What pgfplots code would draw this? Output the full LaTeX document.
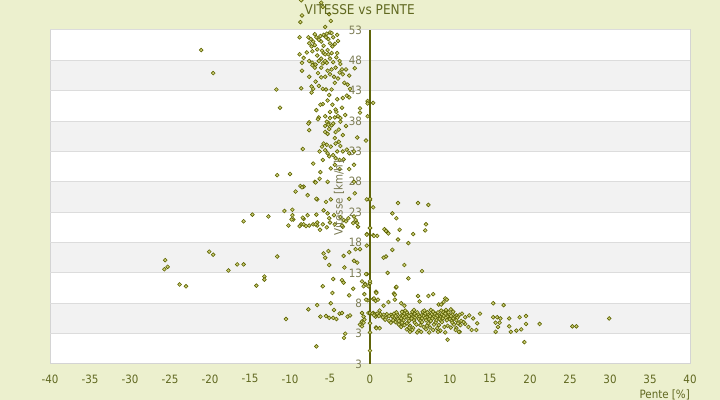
\documentclass[border=0pt]{standalone}
\usepackage{pgfplots}
\pgfplotsset{compat=1.18}
\usepackage{fontspec}
\setmainfont{DejaVu Sans Condensed}
\definecolor{bgcol}{RGB}{236,240,206}
\definecolor{bandcol}{RGB}{242,242,242}
\definecolor{gridcol}{RGB}{220,220,220}
\definecolor{bordercol}{RGB}{212,212,212}
\definecolor{axiscol}{RGB}{95,100,10}
\definecolor{titlecol}{RGB}{96,104,32}
\definecolor{ytickcol}{RGB}{125,125,85}
\definecolor{ylabcol}{RGB}{120,120,80}
\definecolor{markdraw}{RGB}{92,98,0}
\definecolor{markfill}{RGB}{205,208,120}
\begin{document}
\begin{tikzpicture}
\begin{axis}[
  set layers,
  at={(50bp,36bp)}, anchor=south west,
  scale only axis, width=640bp, height=334bp,
  xmin=-40, xmax=40, ymin=-2, ymax=53,
  axis x line=bottom, axis y line=center,
  hide obscured y ticks=false,
  x axis line style={-, draw=bordercol, line width=1bp},
  y axis line style={-, draw=axiscol, line width=1.2bp},
  xtick={-40,-35,...,40},
  xticklabels={-40,-35,-30,-25,-20,-15,-10,-5,0,5,10,15,20,25,30,35,40},
  ytick={-2,3,...,53},
  yticklabels={3,3,8,13,18,23,28,33,38,43,48,53},
  major tick length=0pt,
  ymajorgrids, major grid style={draw=gridcol, line width=1bp},
  clip=false,
  tick label style={font=\fontsize{11.5}{13}\selectfont},
  xticklabel style={color=titlecol, yshift=-7bp},
  yticklabel style={color=ytickcol, anchor=east, xshift=-4.5bp},
  title={VITESSE vs PENTE},
  title style={font=\fontsize{13.5}{15}\selectfont, color=titlecol, at={(axis description cs:0.484,1)}, anchor=center, yshift=14bp, inner sep=0pt},
  xlabel={Pente [\%]},
  ylabel={Vitesse [km/h]},
  every axis x label/.style={at={(axis description cs:1,0)}, anchor=north east, yshift=-25.5bp, inner sep=0pt, font=\fontsize{11.5}{13}\selectfont, color=titlecol},
  every axis y label/.style={at={(axis description cs:0.4516,0.497)}, rotate=90, anchor=center, inner sep=0pt, font=\fontsize{11.5}{13}\selectfont, color=ylabcol},
]
\addplot[fill=bgcol, draw=none, on layer=axis background] coordinates {(-47,-9) (45,-9) (45,59) (-47,59) (-47,-9)};
\addplot[fill=white, draw=none, on layer=axis background] coordinates {(-40,-2) (40,-2) (40,53) (-40,53) (-40,-2)};
\addplot[fill=bandcol, draw=none, on layer=axis background] coordinates {(-40,3) (40,3) (40,8) (-40,8) (-40,3)};
\addplot[fill=bandcol, draw=none, on layer=axis background] coordinates {(-40,13) (40,13) (40,18) (-40,18) (-40,13)};
\addplot[fill=bandcol, draw=none, on layer=axis background] coordinates {(-40,23) (40,23) (40,28) (-40,28) (-40,23)};
\addplot[fill=bandcol, draw=none, on layer=axis background] coordinates {(-40,33) (40,33) (40,38) (-40,38) (-40,33)};
\addplot[fill=bandcol, draw=none, on layer=axis background] coordinates {(-40,43) (40,43) (40,48) (-40,48) (-40,43)};
\addplot[draw=bordercol, line width=1bp, on layer=axis background] coordinates {(-40,-2) (40,-2) (40,53) (-40,53) (-40,-2)};
\addplot[only marks, mark=square*, mark size=1.35bp, mark options={rotate=45, draw=markdraw, fill=markfill, line width=0.6bp}] table {
x y
-8.6 57.9
-8.7 54.3
-5.9 56.8
-6.1 57.5
-5.1 55.6
-4.9 54.5
-5.6 53.5
-8.5 55.4
-8.8 51.8
-7.7 51.8
-7.4 51.5
-7.1 51.1
-6.7 51.8
-6.2 52.0
-5.8 52.2
-5.0 52.6
-4.8 52.5
-4.1 52.2
-5.5 51.8
-5.2 51.5
-4.6 51.8
-4.0 51.2
-7.6 50.8
-7.3 50.3
-6.9 50.5
-6.6 49.8
-6.1 51.1
-5.8 50.4
-5.0 50.8
-4.7 50.3
-5.3 49.7
-7.2 49.5
-8.8 49.0
-8.3 48.4
-5.8 49.2
-5.6 49.0
-4.8 49.2
-4.1 49.2
-6.1 48.3
-5.6 47.9
-5.4 47.6
-5.0 48.3
-4.6 47.7
-3.8 47.9
-3.7 47.4
-7.6 47.9
-7.2 47.6
-6.4 47.9
-8.5 47.6
-7.2 47.2
-6.9 46.8
-6.1 46.8
-5.3 46.3
-4.8 46.5
-4.3 46.8
-3.5 46.5
-3.0 46.5
-1.9 46.7
-8.5 46.3
-3.8 46.0
-5.0 45.7
-4.5 45.3
-4.0 45.0
-3.4 45.7
-2.6 45.5
-6.1 45.2
-5.6 45.3
-7.6 45.3
-6.4 43.8
-7.3 43.7
-7.1 43.3
-5.9 43.3
-5.5 43.2
-8.6 43.4
-11.7 43.2
-7.3 42.7
-4.8 43.2
-2.8 44.0
-2.5 43.3
-3.4 41.8
-2.6 41.9
-2.9 42.2
-5.3 41.4
-5.9 40.8
-6.2 40.7
-4.7 40.7
-4.3 39.9
-11.25 40.2
-0.3 41.3
-0.3 40.9
0.4 41.0
-1.25 40.1
-0.3 38.8
-1.25 39.4
-7.6 37.8
-6.4 38.6
-5.6 38.8
-4.4 38.6
-4.0 38.8
-3.7 38.5
-3.0 37.2
-5.2 37.7
-4.8 37.3
-5.6 37.2
-21.1 49.7
-19.6 45.9
-6.9 52.3
-6.4 51.4
-5.4 52.4
-6.0 49.6
-6.6 48.8
-5.2 49.0
-4.4 50.7
-7.9 49.3
-6.8 47.3
-5.9 47.5
-4.2 48.5
-6.5 45.9
-4.4 44.3
-6.8 44.5
-3.2 44.3
-5.1 42.3
-4.1 41.6
-6.7 39.8
-5.0 39.5
-3.5 40.2
-6.5 38.3
-5.0 38.5
-4.2 39.5
-3.1 39.0
-3.7 37.9
-5.4 37.9
-5.2 37.4
-4.6 37.6
-7.7 37.6
-7.6 36.5
-5.6 36.2
-5.1 36.7
-5.3 35.9
-4.3 36.2
-3.9 36.6
-3.4 35.7
-4.4 35.2
-1.6 35.3
-0.5 34.8
-5.8 34.3
-6.0 33.8
-5.4 34.1
-4.9 33.8
-4.3 34.3
-3.9 34.6
-3.7 33.9
-8.4 33.4
-6.3 33.0
-5.6 33.2
-5.3 32.7
-5.1 32.2
-4.6 32.4
-4.1 33.0
-3.4 33.0
-2.9 33.3
-2.6 32.7
-2.0 33.0
-4.3 31.9
-3.8 31.6
-3.3 31.7
-5.9 31.6
-7.1 31.0
-4.4 30.8
-4.9 30.2
-3.8 30.1
-6.2 29.6
-2.0 30.8
-2.6 30.1
-10.0 29.3
-11.6 29.1
-8.3 27.2
-8.7 27.3
-9.3 26.4
-6.9 28.0
-6.3 28.5
-5.3 28.0
-2.0 28.0
-1.9 26.1
-6.6 25.1
-5.5 24.7
-4.9 25.1
-2.6 25.2
-0.4 25.1
0.0 25.0
0.4 23.8
-10.7 23.2
-9.7 23.4
-9.6 21.8
-8.3 21.9
-5.8 23.3
-5.3 22.8
-5.1 22.0
-4.5 22.5
-3.7 22.2
-3.3 21.7
-2.7 22.0
-2.0 22.3
-1.8 21.7
-10.2 20.8
-8.6 21.0
-7.6 20.8
-6.6 20.8
-5.9 21.0
-5.4 20.5
-4.4 21.0
-3.4 20.6
-1.6 21.2
-1.5 20.6
0.0 20.4
-7.1 21.0
-6.6 21.3
-5.0 21.3
-3.0 21.5
-2.1 21.2
-6.25 20.1
-3.5 20.8
-0.4 19.4
0.4 19.2
0.9 19.1
-0.4 19.3
-6.8 27.9
-8.5 27.1
-7.8 25.8
-6.7 25.2
-9.7 22.5
-7.8 22.5
-6.7 22.6
-9.8 21.8
-8.4 22.1
-8.8 20.7
-8.3 21.0
-8.0 20.7
-6.8 21.0
-14.7 22.6
-15.8 21.5
-12.7 22.3
-20.1 16.5
-19.6 16.0
-11.6 15.7
-25.6 15.1
-25.7 13.6
-25.3 14.0
-17.7 13.4
-16.6 14.4
-15.8 14.4
-13.2 12.4
-13.2 11.9
-14.2 10.9
-23.8 11.1
-23.0 10.8
-5.8 16.2
-5.2 16.6
-5.6 15.5
-5.1 14.3
-3.3 15.8
-2.6 16.4
-1.8 16.9
-1.25 16.9
-2.0 15.0
-1.6 14.7
-0.4 17.5
-3.2 13.9
-0.4 12.8
-4.6 12.0
-3.5 11.8
-3.3 11.4
-5.9 10.8
-2.1 10.4
-1.0 11.6
-0.6 11.2
-4.7 9.7
-2.6 9.3
-0.7 9.5
0.75 9.9
-4.9 8.0
-0.3 8.5
0.4 8.7
0.7 8.4
-6.6 7.7
-7.7 7.0
-4.5 6.9
-3.8 6.3
-3.5 6.4
-2.8 5.8
-2.5 6.0
-6.2 5.8
-5.5 5.9
-5.1 5.6
-4.6 5.6
-4.2 5.4
-10.5 5.4
-1.0 6.4
-0.8 5.8
-0.7 5.3
-1.0 5.0
-1.25 4.5
-0.8 4.8
-1.0 4.2
0.4 6.4
0.7 5.8
0.75 4.0
-3.1 3.0
-3.25 2.3
-6.7 0.9
3.5 24.5
6.0 24.5
7.3 24.2
2.8 22.8
3.3 22.0
7.0 21.0
6.9 20.0
1.8 20.2
2.1 19.8
2.3 19.5
2.0 19.9
3.7 20.1
5.4 19.4
4.8 17.9
3.5 18.5
2.8 16.8
2.0 15.7
1.7 15.5
0.5 19.1
2.2 13.0
4.3 14.3
6.5 13.3
4.8 12.1
3.25 10.6
0.75 9.8
0.5 8.8
-0.5 8.6
-0.6 11.1
-0.8 10.8
-0.5 12.8
-0.2 10.8
0.0 11.3
0.8 9.7
3.0 9.6
3.1 9.4
1.0 8.6
2.3 8.2
3.9 8.0
3.1 8.6
6.0 9.2
6.2 8.3
7.3 9.2
7.9 9.5
9.4 8.8
9.6 8.6
8.6 7.8
8.9 7.8
9.2 8.2
10.1 7.0
15.4 8.0
16.7 7.7
4.3 7.6
1.7 7.6
1.2 6.8
-0.2 6.4
3.3 10.7
0 6.4
0 4.7
0 3.2
0 0.2
0 11.65
0 25.2
0 20.4
11.5 6.3
11.9 5.7
12.4 6.0
12.9 5.5
13.75 6.3
11.9 4.6
12.3 4.1
12.7 3.6
13.4 4.7
13.3 3.6
11.2 3.3
15.4 5.7
15.9 5.7
15.7 4.8
16.0 4.1
16.2 4.8
15.7 3.3
16.3 5.5
17.4 5.5
17.4 4.2
17.6 3.3
18.7 5.7
19.5 5.9
19.5 4.6
18.3 3.5
18.9 3.7
21.2 4.6
19.3 1.6
25.3 4.2
25.8 4.2
29.9 5.5
9.7 2.0
0.8 3.9
1.2 3.9
2.1 6.2
2.6 6.1
3.0 6.3
3.4 6.2
3.9 6.0
4.3 6.3
4.7 6.2
5.1 6.1
5.6 6.3
6.0 6.2
6.4 6.0
6.9 6.3
7.3 6.1
7.7 6.2
8.1 6.3
8.6 6.0
9.0 6.2
9.4 6.3
9.9 6.1
10.3 6.2
10.8 6.0
11.2 6.1
2.4 5.9
2.8 5.8
3.2 5.9
3.7 5.7
4.1 5.9
4.5 5.8
4.9 5.9
5.4 5.7
5.8 5.9
6.2 5.8
6.7 5.9
7.1 5.7
7.5 5.9
8.0 5.8
8.4 5.9
8.8 5.7
9.2 5.9
9.7 5.8
10.1 5.9
10.6 5.7
11.0 5.8
3.0 5.5
3.5 5.4
3.9 5.5
4.3 5.6
4.8 5.4
5.2 5.5
5.6 5.6
6.1 5.4
6.5 5.5
6.9 5.6
7.4 5.4
7.8 5.5
8.2 5.6
8.7 5.4
9.1 5.5
9.5 5.6
10.0 5.4
10.4 5.5
10.9 5.6
3.3 6.5
4.0 6.6
4.6 6.5
5.3 6.6
5.9 6.5
6.6 6.6
7.2 6.5
7.9 6.6
8.5 6.5
9.1 6.6
9.8 6.5
10.4 6.6
2.9 5.2
3.6 5.1
4.2 5.2
4.9 5.1
5.5 5.2
6.3 5.1
7.0 5.2
7.6 5.1
8.3 5.2
8.9 5.1
9.6 5.2
10.2 5.1
10.8 5.2
11.4 5.1
4.4 6.8
5.5 6.9
6.8 6.8
7.6 6.9
8.9 6.8
9.5 6.9
3.2 4.9
4.0 4.8
4.6 4.7
5.6 4.8
6.5 4.9
7.3 4.7
8.2 4.8
9.0 4.9
10.3 4.8
11.0 4.7
11.7 4.9
3.6 4.5
4.3 4.4
5.0 4.3
5.8 4.5
6.3 4.4
7.1 4.3
8.0 4.5
8.6 4.4
9.7 4.3
10.5 4.5
11.3 4.4
3.9 4.1
4.9 4.0
5.4 3.9
6.7 4.1
7.5 4.0
8.4 3.9
9.3 4.1
10.1 4.0
10.8 3.9
4.6 3.7
5.3 3.6
6.1 3.5
7.0 3.7
7.9 3.6
8.8 3.5
10.7 3.6
5.0 3.3
5.9 3.2
6.4 3.3
7.4 3.2
8.5 3.3
9.4 3.2
11.1 3.3
0.3 6.3
0.6 6.2
0.9 6.3
1.3 6.2
1.7 6.1
0.5 6.0
1.1 5.9
1.6 5.7
2.0 5.6
1.9 5.3
2.4 5.1
2.6 4.8
};
\end{axis}
\pgfresetboundingbox
\useasboundingbox (0,0) rectangle (720bp,400bp);
\end{tikzpicture}
\end{document}
